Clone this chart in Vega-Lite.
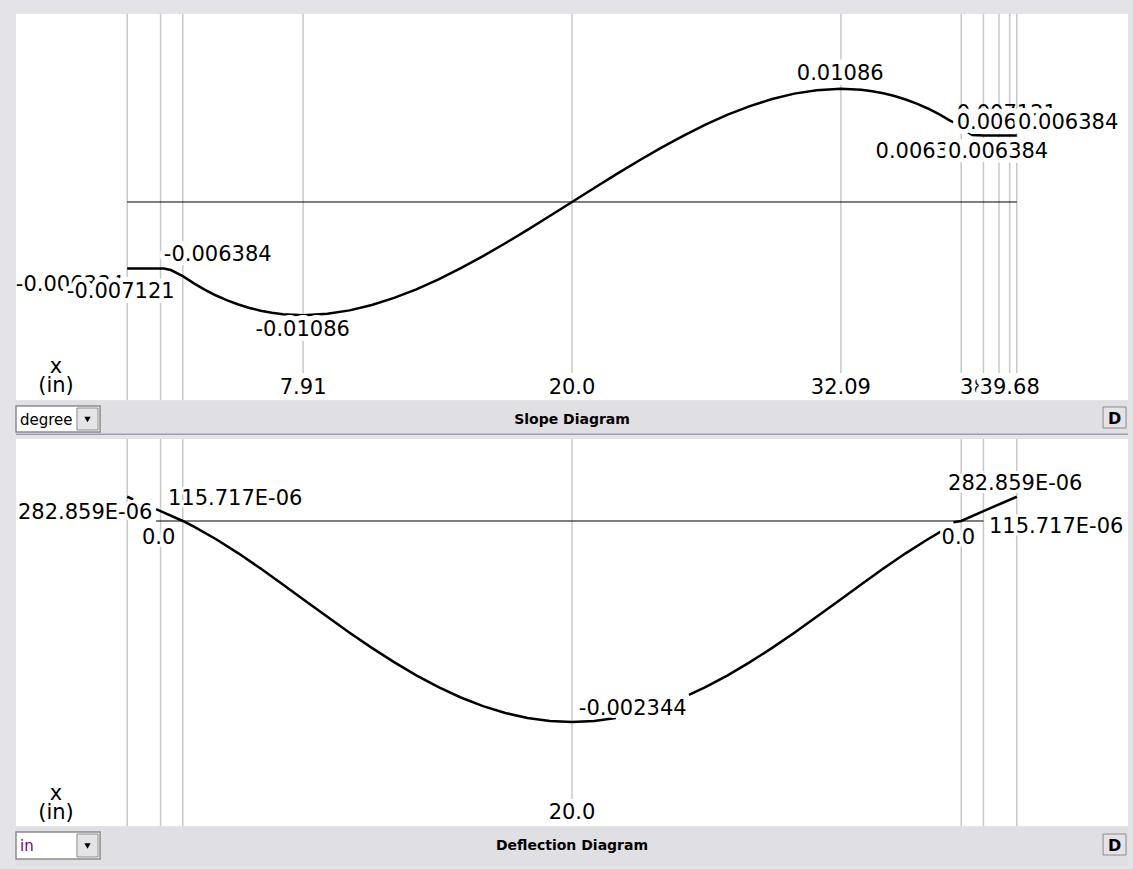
{
  "$schema": "https://vega.github.io/schema/vega-lite/v6.json",
  "background": "#E4E4E8",
  "padding": {"left": 15, "top": 13, "right": 6, "bottom": 7},
  "config": {"view": {"stroke": null}, "text": {"font": "DejaVu Sans"}},
  "datasets": {
    "slope": [
      {"seg": "a", "x": 0, "v": -0.006384}, {"seg": "a", "x": 1.5, "v": -0.006384}, {"seg": "a", "x": 1.65, "v": -0.006384},
      {"seg": "a", "x": 1.96, "v": -0.00653}, {"seg": "a", "x": 2.5, "v": -0.007121}, {"seg": "a", "x": 3, "v": -0.007809},
      {"seg": "a", "x": 3.5, "v": -0.008429}, {"seg": "a", "x": 4, "v": -0.008973}, {"seg": "a", "x": 4.5, "v": -0.009442},
      {"seg": "a", "x": 5, "v": -0.009841}, {"seg": "a", "x": 5.5, "v": -0.01017}, {"seg": "a", "x": 6, "v": -0.010432},
      {"seg": "a", "x": 6.5, "v": -0.01063}, {"seg": "a", "x": 7, "v": -0.010765}, {"seg": "a", "x": 7.91, "v": -0.01086},
      {"seg": "a", "x": 9, "v": -0.010732}, {"seg": "a", "x": 10, "v": -0.010401}, {"seg": "a", "x": 11, "v": -0.009887},
      {"seg": "a", "x": 12, "v": -0.009206}, {"seg": "a", "x": 13, "v": -0.008378}, {"seg": "a", "x": 14, "v": -0.007421},
      {"seg": "a", "x": 15, "v": -0.006353}, {"seg": "a", "x": 16, "v": -0.005193}, {"seg": "a", "x": 17, "v": -0.003959},
      {"seg": "a", "x": 18, "v": -0.00267}, {"seg": "a", "x": 19, "v": -0.001344}, {"seg": "a", "x": 20, "v": 0},
      {"seg": "a", "x": 21, "v": 0.001344}, {"seg": "a", "x": 22, "v": 0.00267}, {"seg": "a", "x": 23, "v": 0.003959},
      {"seg": "a", "x": 24, "v": 0.005193}, {"seg": "a", "x": 25, "v": 0.006353}, {"seg": "a", "x": 26, "v": 0.007421},
      {"seg": "a", "x": 27, "v": 0.008378}, {"seg": "a", "x": 28, "v": 0.009206}, {"seg": "a", "x": 29, "v": 0.009887},
      {"seg": "a", "x": 30, "v": 0.010401}, {"seg": "a", "x": 31, "v": 0.010732}, {"seg": "a", "x": 32.09, "v": 0.01086},
      {"seg": "a", "x": 33, "v": 0.010765}, {"seg": "a", "x": 33.5, "v": 0.01063}, {"seg": "a", "x": 34, "v": 0.010432},
      {"seg": "a", "x": 34.5, "v": 0.01017}, {"seg": "a", "x": 35, "v": 0.009841}, {"seg": "a", "x": 35.5, "v": 0.009442},
      {"seg": "a", "x": 36, "v": 0.008973}, {"seg": "a", "x": 36.5, "v": 0.008429}, {"seg": "a", "x": 37, "v": 0.007809},
      {"seg": "a", "x": 37.17, "v": 0.007637},
      {"seg": "b", "x": 37.7, "v": 0.00681}, {"seg": "b", "x": 38, "v": 0.00643}, {"seg": "b", "x": 38.5, "v": 0.006384},
      {"seg": "b", "x": 40, "v": 0.006384}
    ],
    "defl": [
      {"seg": "a", "x": 0, "v": 0.000282859}, {"seg": "a", "x": 0.27, "v": 0.000252781},
      {"seg": "b", "x": 1.3, "v": 0.000138}, {"seg": "b", "x": 1.5, "v": 0.000115717}, {"seg": "b", "x": 2.5, "v": 0},
      {"seg": "b", "x": 3, "v": -0.0000656}, {"seg": "b", "x": 4, "v": -0.0002125}, {"seg": "b", "x": 5, "v": -0.0003771},
      {"seg": "b", "x": 6, "v": -0.0005544}, {"seg": "b", "x": 7, "v": -0.0007397}, {"seg": "b", "x": 8, "v": -0.0009288},
      {"seg": "b", "x": 9, "v": -0.0011175}, {"seg": "b", "x": 10, "v": -0.0013022}, {"seg": "b", "x": 11, "v": -0.0014795},
      {"seg": "b", "x": 12, "v": -0.0016464}, {"seg": "b", "x": 13, "v": -0.0018}, {"seg": "b", "x": 14, "v": -0.0019381},
      {"seg": "b", "x": 15, "v": -0.0020584}, {"seg": "b", "x": 16, "v": -0.0021593}, {"seg": "b", "x": 17, "v": -0.0022393},
      {"seg": "b", "x": 18, "v": -0.0022972}, {"seg": "b", "x": 19, "v": -0.0023322}, {"seg": "b", "x": 20, "v": -0.002344},
      {"seg": "b", "x": 21, "v": -0.0023322}, {"seg": "b", "x": 21.97, "v": -0.0022984},
      {"seg": "c", "x": 25.26, "v": -0.0020289}, {"seg": "c", "x": 26, "v": -0.0019381}, {"seg": "c", "x": 27, "v": -0.0018},
      {"seg": "c", "x": 28, "v": -0.0016464}, {"seg": "c", "x": 29, "v": -0.0014795}, {"seg": "c", "x": 30, "v": -0.0013022},
      {"seg": "c", "x": 31, "v": -0.0011175}, {"seg": "c", "x": 32, "v": -0.0009288}, {"seg": "c", "x": 33, "v": -0.0007397},
      {"seg": "c", "x": 34, "v": -0.0005544}, {"seg": "c", "x": 35, "v": -0.0003771}, {"seg": "c", "x": 36, "v": -0.0002125},
      {"seg": "c", "x": 36.58, "v": -0.0001248},
      {"seg": "d", "x": 37.15, "v": -0.000014}, {"seg": "d", "x": 37.5, "v": 0}, {"seg": "d", "x": 38.5, "v": 0.000115717},
      {"seg": "d", "x": 40, "v": 0.000282859}
    ],
    "slopeLabels": [
      {"text": "-0.006384", "x": -2.585, "y": -0.007994, "z": 1},
      {"text": "0.007121", "x": 39.55, "y": 0.00845, "z": 1},
      {"text": "0.006384", "x": 35.9, "y": 0.004846, "z": 1},
      {"text": "38.5", "x": 38.5, "y": -0.017831, "z": 1},
      {"text": "-0.007121", "x": -0.29, "y": -0.008666, "z": 2},
      {"text": "0.006384", "x": 39.55, "y": 0.007572, "z": 2},
      {"text": "0.006384", "x": 39.16, "y": 0.004846, "z": 2},
      {"text": "39.68", "x": 39.68, "y": -0.017831, "z": 2},
      {"text": "0.006384", "x": 42.31, "y": 0.007572, "z": 3},
      {"text": "0.01086", "x": 32.06, "y": 0.012255, "z": 3},
      {"text": "-0.01086", "x": 7.89, "y": -0.012313, "z": 3},
      {"text": "-0.006384", "x": 4.07, "y": -0.005115, "z": 3},
      {"text": "7.91", "x": 7.91, "y": -0.017831, "z": 3},
      {"text": "20.0", "x": 20, "y": -0.017831, "z": 3},
      {"text": "32.09", "x": 32.09, "y": -0.017831, "z": 3},
      {"text": "x", "x": -3.2, "y": -0.015835, "z": 3},
      {"text": "(in)", "x": -3.2, "y": -0.017658, "z": 3}
    ],
    "deflLabels": [
      {"text": "282.859E-06", "x": -1.889, "y": 0.0000956, "z": 3},
      {"text": "115.717E-06", "x": 4.856, "y": 0.000259, "z": 3},
      {"text": "0.0", "x": 1.416, "y": -0.000196, "z": 3},
      {"text": "-0.002344", "x": 22.73, "y": -0.0021959, "z": 3},
      {"text": "282.859E-06", "x": 39.93, "y": 0.000434, "z": 3},
      {"text": "115.717E-06", "x": 41.77, "y": -0.0000676, "z": 3},
      {"text": "0.0", "x": 37.37, "y": -0.000196, "z": 3},
      {"text": "20.0", "x": 20, "y": -0.0034, "z": 3},
      {"text": "x", "x": -3.2, "y": -0.003179, "z": 3},
      {"text": "(in)", "x": -3.2, "y": -0.0034, "z": 3}
    ]
  },
  "spacing": 3,
  "vconcat": [
    {
      "spacing": 0,
      "vconcat": [
        {
          "width": 1112, "height": 386,
          "view": {"fill": "white", "stroke": null},
          "layer": [
            {
              "data": {"values": [{"x": 0}, {"x": 1.5}, {"x": 2.5}]},
              "mark": {"type": "rule", "color": "#C8C8C8", "strokeWidth": 1.5},
              "encoding": {"x": {"field": "x", "type": "quantitative", "scale": {"domain": [-5, 45], "nice": false, "zero": false}, "axis": null}}
            },
            {
              "data": {"values": [{"x": 7.91}, {"x": 20}, {"x": 32.09}, {"x": 37.5}, {"x": 38.5}, {"x": 39.2}, {"x": 39.68}, {"x": 40}]},
              "mark": {"type": "rule", "color": "#C8C8C8", "strokeWidth": 1.5},
              "encoding": {
                "x": {"field": "x", "type": "quantitative", "scale": {"domain": [-5, 45], "nice": false, "zero": false}, "axis": null},
                "y": {"datum": 0.018042, "type": "quantitative", "scale": {"domain": [-0.019002, 0.018042], "nice": false, "zero": false}, "axis": null},
                "y2": {"datum": -0.016411}
              }
            },
            {
              "data": {"values": [{"from": 0, "to": 40, "v": 0}]},
              "mark": {"type": "rule", "color": "black", "strokeWidth": 1},
              "encoding": {
                "x": {"field": "from", "type": "quantitative", "scale": {"domain": [-5, 45], "nice": false, "zero": false}, "axis": null},
                "x2": {"field": "to"},
                "y": {"field": "v", "type": "quantitative", "scale": {"domain": [-0.019002, 0.018042], "nice": false, "zero": false}, "axis": null}
              }
            },
            {
              "data": {"name": "slope"},
              "mark": {"type": "line", "color": "black", "strokeWidth": 2.5},
              "encoding": {
                "x": {"field": "x", "type": "quantitative", "scale": {"domain": [-5, 45], "nice": false, "zero": false}, "axis": null},
                "y": {"field": "v", "type": "quantitative", "scale": {"domain": [-0.019002, 0.018042], "nice": false, "zero": false}, "axis": null},
                "detail": {"field": "seg"}
              }
            },
            {
              "data": {"name": "slopeLabels"},
              "transform": [{"filter": "datum.z == 1"}],
              "mark": {"type": "text", "fontSize": 21, "align": "center", "baseline": "middle", "color": "black"},
              "encoding": {
                "x": {"field": "x", "type": "quantitative", "scale": {"domain": [-5, 45], "nice": false, "zero": false}, "axis": null},
                "y": {"field": "y", "type": "quantitative", "scale": {"domain": [-0.019002, 0.018042], "nice": false, "zero": false}, "axis": null},
                "text": {"field": "text"}
              }
            },
            {
              "data": {"name": "slopeLabels"},
              "transform": [{"filter": "datum.z == 2"}],
              "mark": {"type": "text", "fontSize": 21, "align": "center", "baseline": "middle", "fill": "white", "stroke": "white", "strokeWidth": 10, "strokeJoin": "round"},
              "encoding": {
                "x": {"field": "x", "type": "quantitative", "scale": {"domain": [-5, 45], "nice": false, "zero": false}, "axis": null},
                "y": {"field": "y", "type": "quantitative", "scale": {"domain": [-0.019002, 0.018042], "nice": false, "zero": false}, "axis": null},
                "text": {"field": "text"}
              }
            },
            {
              "data": {"name": "slopeLabels"},
              "transform": [{"filter": "datum.z == 2"}],
              "mark": {"type": "text", "fontSize": 21, "align": "center", "baseline": "middle", "color": "black"},
              "encoding": {
                "x": {"field": "x", "type": "quantitative", "scale": {"domain": [-5, 45], "nice": false, "zero": false}, "axis": null},
                "y": {"field": "y", "type": "quantitative", "scale": {"domain": [-0.019002, 0.018042], "nice": false, "zero": false}, "axis": null},
                "text": {"field": "text"}
              }
            },
            {
              "data": {"name": "slopeLabels"},
              "transform": [{"filter": "datum.z == 3"}],
              "mark": {"type": "text", "fontSize": 21, "align": "center", "baseline": "middle", "fill": "white", "stroke": "white", "strokeWidth": 10, "strokeJoin": "round"},
              "encoding": {
                "x": {"field": "x", "type": "quantitative", "scale": {"domain": [-5, 45], "nice": false, "zero": false}, "axis": null},
                "y": {"field": "y", "type": "quantitative", "scale": {"domain": [-0.019002, 0.018042], "nice": false, "zero": false}, "axis": null},
                "text": {"field": "text"}
              }
            },
            {
              "data": {"name": "slopeLabels"},
              "transform": [{"filter": "datum.z == 3"}],
              "mark": {"type": "text", "fontSize": 21, "align": "center", "baseline": "middle", "color": "black"},
              "encoding": {
                "x": {"field": "x", "type": "quantitative", "scale": {"domain": [-5, 45], "nice": false, "zero": false}, "axis": null},
                "y": {"field": "y", "type": "quantitative", "scale": {"domain": [-0.019002, 0.018042], "nice": false, "zero": false}, "axis": null},
                "text": {"field": "text"}
              }
            }
          ]
        },
        {
          "width": 1112, "height": 34,
          "view": {"fill": "#E0DFE3", "stroke": null},
          "layer": [
            {
              "data": {"values": [{"part": "edge", "a": -5, "b": 45, "t": 32.5, "u": 34}]},
              "mark": {"type": "rect", "fill": "#A0A0A8"},
              "encoding": {
                "x": {"field": "a", "type": "quantitative", "scale": {"domain": [-5, 45], "nice": false, "zero": false}, "axis": null},
                "x2": {"field": "b"},
                "y": {"field": "t", "type": "quantitative", "scale": {"domain": [0, 34], "reverse": true, "nice": false, "zero": false}, "axis": null},
                "y2": {"field": "u"}
              }
            },
            {
              "data": {"values": [{"part": "box", "a": -5.0, "b": -1.22, "t": 5, "u": 31}]},
              "mark": {"type": "rect", "fill": "white", "stroke": "#8C8C8C", "strokeWidth": 1.5},
              "encoding": {
                "x": {"field": "a", "type": "quantitative", "scale": {"domain": [-5, 45], "nice": false, "zero": false}, "axis": null},
                "x2": {"field": "b"},
                "y": {"field": "t", "type": "quantitative", "scale": {"domain": [0, 34], "reverse": true, "nice": false, "zero": false}, "axis": null},
                "y2": {"field": "u"}
              }
            },
            {
              "data": {"values": [{"part": "button", "a": -2.26, "b": -1.31, "t": 7, "u": 29}, {"part": "D", "a": 43.88, "b": 44.91, "t": 6, "u": 27}]},
              "mark": {"type": "rect", "fill": "#E4E3E8", "stroke": "#8C8C8C", "strokeWidth": 1},
              "encoding": {
                "x": {"field": "a", "type": "quantitative", "scale": {"domain": [-5, 45], "nice": false, "zero": false}, "axis": null},
                "x2": {"field": "b"},
                "y": {"field": "t", "type": "quantitative", "scale": {"domain": [0, 34], "reverse": true, "nice": false, "zero": false}, "axis": null},
                "y2": {"field": "u"}
              }
            },
            {
              "data": {"values": [{"a": -1.785, "t": 18.5}]},
              "mark": {"type": "point", "shape": "triangle-down", "filled": true, "color": "black", "size": 40, "opacity": 1},
              "encoding": {
                "x": {"field": "a", "type": "quantitative", "scale": {"domain": [-5, 45], "nice": false, "zero": false}, "axis": null},
                "y": {"field": "t", "type": "quantitative", "scale": {"domain": [0, 34], "reverse": true, "nice": false, "zero": false}, "axis": null}
              }
            },
            {
              "data": {"values": [{"label": "degree", "a": -4.82, "t": 24}]},
              "mark": {"type": "text", "fontSize": 15, "align": "left", "baseline": "alphabetic", "color": "black"},
              "encoding": {
                "x": {"field": "a", "type": "quantitative", "scale": {"domain": [-5, 45], "nice": false, "zero": false}, "axis": null},
                "y": {"field": "t", "type": "quantitative", "scale": {"domain": [0, 34], "reverse": true, "nice": false, "zero": false}, "axis": null},
                "text": {"field": "label"}
              }
            },
            {
              "data": {"values": [{"label": "Slope Diagram", "a": 20, "t": 22.5}]},
              "mark": {"type": "text", "fontSize": 14, "fontWeight": "bold", "align": "center", "baseline": "alphabetic", "color": "black"},
              "encoding": {
                "x": {"field": "a", "type": "quantitative", "scale": {"domain": [-5, 45], "nice": false, "zero": false}, "axis": null},
                "y": {"field": "t", "type": "quantitative", "scale": {"domain": [0, 34], "reverse": true, "nice": false, "zero": false}, "axis": null},
                "text": {"field": "label"}
              }
            },
            {
              "data": {"values": [{"label": "D", "a": 44.4, "t": 22.5}]},
              "mark": {"type": "text", "fontSize": 16, "fontWeight": "bold", "align": "center", "baseline": "alphabetic", "color": "black"},
              "encoding": {
                "x": {"field": "a", "type": "quantitative", "scale": {"domain": [-5, 45], "nice": false, "zero": false}, "axis": null},
                "y": {"field": "t", "type": "quantitative", "scale": {"domain": [0, 34], "reverse": true, "nice": false, "zero": false}, "axis": null},
                "text": {"field": "label"}
              }
            }
          ]
        }
      ]
    },
    {
      "spacing": 0,
      "vconcat": [
        {
          "width": 1112, "height": 387,
          "view": {"fill": "white", "stroke": null},
          "layer": [
            {
              "data": {"values": [{"x": 0}, {"x": 1.5}, {"x": 2.5}, {"x": 37.5}, {"x": 38.5}, {"x": 40}]},
              "mark": {"type": "rule", "color": "#C8C8C8", "strokeWidth": 1.5},
              "encoding": {"x": {"field": "x", "type": "quantitative", "scale": {"domain": [-5, 45], "nice": false, "zero": false}, "axis": null}}
            },
            {
              "data": {"values": [{"x": 20}]},
              "mark": {"type": "rule", "color": "#C8C8C8", "strokeWidth": 1.5},
              "encoding": {
                "x": {"field": "x", "type": "quantitative", "scale": {"domain": [-5, 45], "nice": false, "zero": false}, "axis": null},
                "y": {"datum": 0.00095627, "type": "quantitative", "scale": {"domain": [-0.0035569, 0.00095627], "nice": false, "zero": false}, "axis": null},
                "y2": {"datum": -0.003242}
              }
            },
            {
              "data": {"values": [{"from": 1.3, "to": 38.5, "v": 0}]},
              "mark": {"type": "rule", "color": "black", "strokeWidth": 1},
              "encoding": {
                "x": {"field": "from", "type": "quantitative", "scale": {"domain": [-5, 45], "nice": false, "zero": false}, "axis": null},
                "x2": {"field": "to"},
                "y": {"field": "v", "type": "quantitative", "scale": {"domain": [-0.0035569, 0.00095627], "nice": false, "zero": false}, "axis": null}
              }
            },
            {
              "data": {"name": "defl"},
              "mark": {"type": "line", "color": "black", "strokeWidth": 2.5},
              "encoding": {
                "x": {"field": "x", "type": "quantitative", "scale": {"domain": [-5, 45], "nice": false, "zero": false}, "axis": null},
                "y": {"field": "v", "type": "quantitative", "scale": {"domain": [-0.0035569, 0.00095627], "nice": false, "zero": false}, "axis": null},
                "detail": {"field": "seg"}
              }
            },
            {
              "data": {"name": "deflLabels"},
              "mark": {"type": "text", "fontSize": 21, "align": "center", "baseline": "middle", "fill": "white", "stroke": "white", "strokeWidth": 6, "strokeJoin": "round"},
              "encoding": {
                "x": {"field": "x", "type": "quantitative", "scale": {"domain": [-5, 45], "nice": false, "zero": false}, "axis": null},
                "y": {"field": "y", "type": "quantitative", "scale": {"domain": [-0.0035569, 0.00095627], "nice": false, "zero": false}, "axis": null},
                "text": {"field": "text"}
              }
            },
            {
              "data": {"name": "deflLabels"},
              "mark": {"type": "text", "fontSize": 21, "align": "center", "baseline": "middle", "color": "black"},
              "encoding": {
                "x": {"field": "x", "type": "quantitative", "scale": {"domain": [-5, 45], "nice": false, "zero": false}, "axis": null},
                "y": {"field": "y", "type": "quantitative", "scale": {"domain": [-0.0035569, 0.00095627], "nice": false, "zero": false}, "axis": null},
                "text": {"field": "text"}
              }
            }
          ]
        },
        {
          "width": 1112, "height": 39,
          "view": {"fill": "#E0DFE3", "stroke": null},
          "layer": [
            {
              "data": {"values": [{"part": "box", "a": -5.0, "b": -1.22, "t": 5, "u": 32}]},
              "mark": {"type": "rect", "fill": "white", "stroke": "#8C8C8C", "strokeWidth": 1.5},
              "encoding": {
                "x": {"field": "a", "type": "quantitative", "scale": {"domain": [-5, 45], "nice": false, "zero": false}, "axis": null},
                "x2": {"field": "b"},
                "y": {"field": "t", "type": "quantitative", "scale": {"domain": [0, 39], "reverse": true, "nice": false, "zero": false}, "axis": null},
                "y2": {"field": "u"}
              }
            },
            {
              "data": {"values": [{"part": "button", "a": -2.26, "b": -1.31, "t": 7, "u": 30}, {"part": "D", "a": 43.88, "b": 44.91, "t": 7, "u": 28}]},
              "mark": {"type": "rect", "fill": "#E4E3E8", "stroke": "#8C8C8C", "strokeWidth": 1},
              "encoding": {
                "x": {"field": "a", "type": "quantitative", "scale": {"domain": [-5, 45], "nice": false, "zero": false}, "axis": null},
                "x2": {"field": "b"},
                "y": {"field": "t", "type": "quantitative", "scale": {"domain": [0, 39], "reverse": true, "nice": false, "zero": false}, "axis": null},
                "y2": {"field": "u"}
              }
            },
            {
              "data": {"values": [{"a": -1.785, "t": 19}]},
              "mark": {"type": "point", "shape": "triangle-down", "filled": true, "color": "black", "size": 40, "opacity": 1},
              "encoding": {
                "x": {"field": "a", "type": "quantitative", "scale": {"domain": [-5, 45], "nice": false, "zero": false}, "axis": null},
                "y": {"field": "t", "type": "quantitative", "scale": {"domain": [0, 39], "reverse": true, "nice": false, "zero": false}, "axis": null}
              }
            },
            {
              "data": {"values": [{"label": "in", "a": -4.82, "t": 23.5}]},
              "mark": {"type": "text", "fontSize": 15, "align": "left", "baseline": "alphabetic", "color": "#800080"},
              "encoding": {
                "x": {"field": "a", "type": "quantitative", "scale": {"domain": [-5, 45], "nice": false, "zero": false}, "axis": null},
                "y": {"field": "t", "type": "quantitative", "scale": {"domain": [0, 39], "reverse": true, "nice": false, "zero": false}, "axis": null},
                "text": {"field": "label"}
              }
            },
            {
              "data": {"values": [{"label": "Deflection Diagram", "a": 20, "t": 22.5}]},
              "mark": {"type": "text", "fontSize": 14, "fontWeight": "bold", "align": "center", "baseline": "alphabetic", "color": "black"},
              "encoding": {
                "x": {"field": "a", "type": "quantitative", "scale": {"domain": [-5, 45], "nice": false, "zero": false}, "axis": null},
                "y": {"field": "t", "type": "quantitative", "scale": {"domain": [0, 39], "reverse": true, "nice": false, "zero": false}, "axis": null},
                "text": {"field": "label"}
              }
            },
            {
              "data": {"values": [{"label": "D", "a": 44.4, "t": 23.5}]},
              "mark": {"type": "text", "fontSize": 16, "fontWeight": "bold", "align": "center", "baseline": "alphabetic", "color": "black"},
              "encoding": {
                "x": {"field": "a", "type": "quantitative", "scale": {"domain": [-5, 45], "nice": false, "zero": false}, "axis": null},
                "y": {"field": "t", "type": "quantitative", "scale": {"domain": [0, 39], "reverse": true, "nice": false, "zero": false}, "axis": null},
                "text": {"field": "label"}
              }
            }
          ]
        }
      ]
    }
  ]
}
